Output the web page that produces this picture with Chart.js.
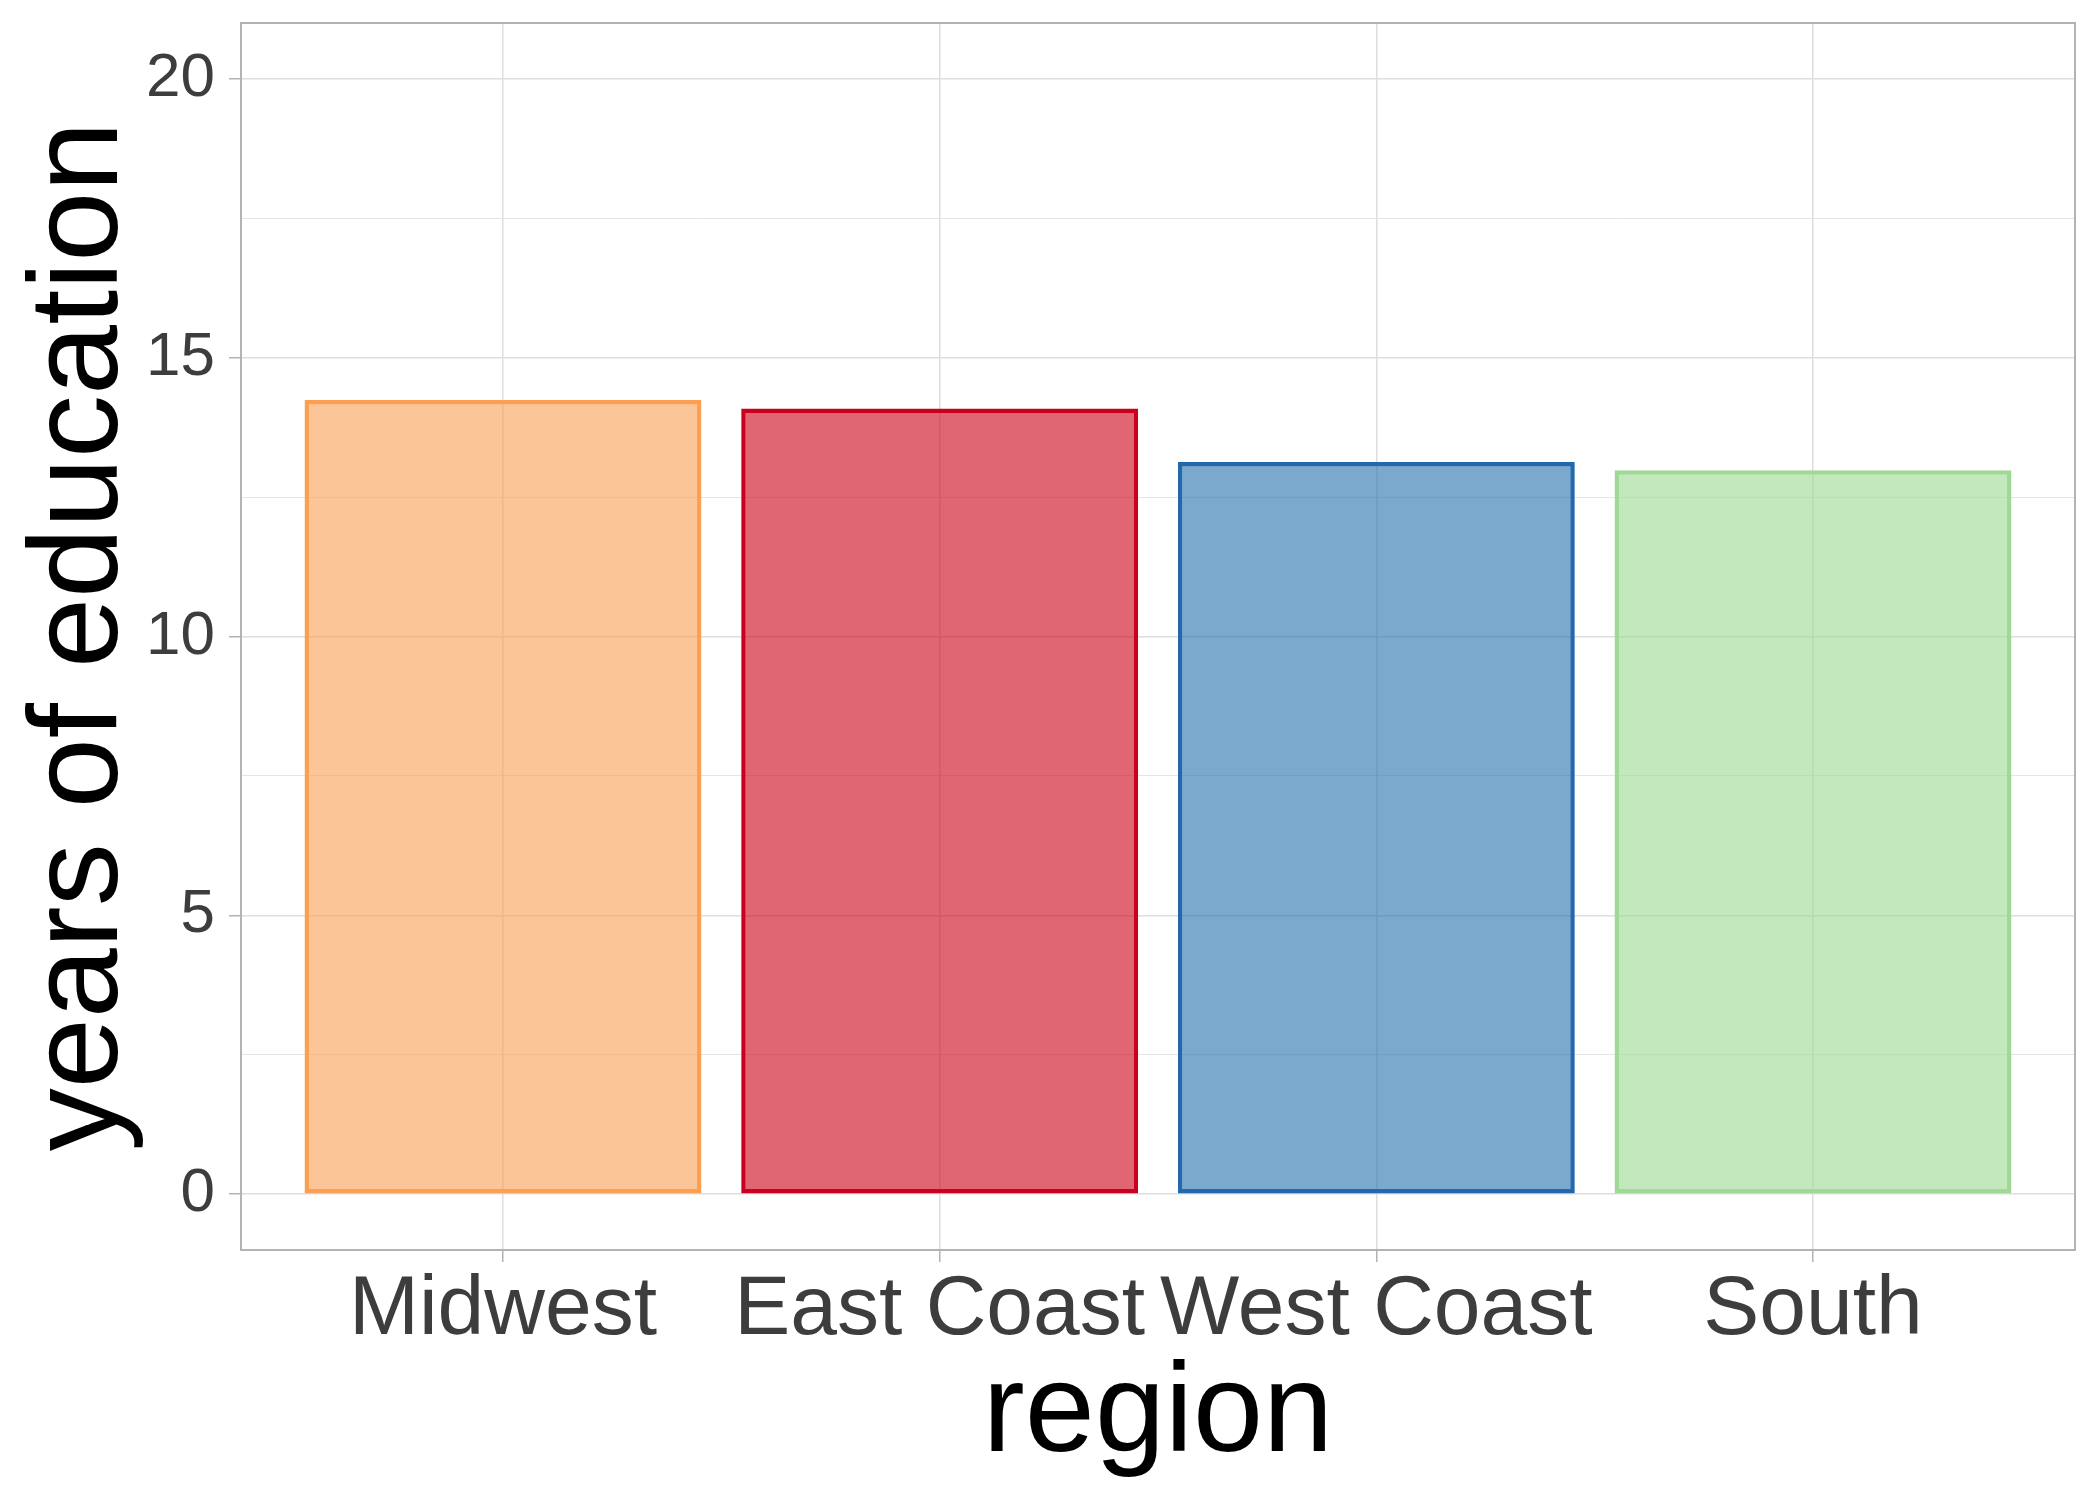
<!DOCTYPE html>
<html>
<head>
<meta charset="utf-8">
<script src="https://cdn.jsdelivr.net/npm/chart.js@4"></script>
<style>
html, body { margin: 0; padding: 0; background: #ffffff; }
canvas { display: block; }
</style>
</head>
<body>
<canvas id="c" width="2099" height="1499"></canvas>
<script>
// ---- data ----
const categories = ['Midwest', 'East Coast', 'West Coast', 'South'];
const yearsOfEducation = [14.24, 14.09, 13.13, 12.98];
const majorYTicks = [0, 5, 10, 15, 20];
const minorYTicks = [2.5, 7.5, 12.5, 17.5];
const xTickPositions = [1, 2, 3, 4];
const xAxisTitle = 'region';
const yAxisTitle = 'years of education';

// ---- styles ----
const barBorderColors = ['#FBA052', '#CA0020', '#2368AC', '#A0D896'];
const barFillColors = [
  'rgba(250, 158, 82, 0.6)',
  'rgba(203, 0, 22, 0.6)',
  'rgba(35, 110, 172, 0.6)',
  'rgba(157, 217, 147, 0.6)'
];
const FONT = "'Liberation Sans', Arial, Helvetica, sans-serif";
const TICK_TEXT = '#3D3D3D';
const GRID = '#DEDEDE';
const FRAME = '#B3B3B3';

const panelBorder = {
  id: 'panelBorder',
  afterDraw(chart) {
    const { ctx, chartArea: a } = chart;
    ctx.save();
    ctx.strokeStyle = FRAME;
    ctx.lineWidth = 2;
    ctx.strokeRect(a.left, a.top, a.right - a.left, a.bottom - a.top);
    ctx.restore();
  }
};

const allYTicks = majorYTicks.concat(minorYTicks).sort((a, b) => a - b);
const isMajorY = v => majorYTicks.includes(v);

new Chart(document.getElementById('c'), {
  type: 'bar',
  data: {
    datasets: [{
      data: categories.map((c, i) => ({ x: xTickPositions[i], y: yearsOfEducation[i] })),
      backgroundColor: barFillColors,
      borderColor: barBorderColors,
      borderWidth: 4.5,
      borderSkipped: false,
      categoryPercentage: 0.909,
      barPercentage: 1.0
    }]
  },
  options: {
    responsive: false,
    devicePixelRatio: 1,
    animation: false,
    layout: { padding: { left: 0, right: 24, top: 23, bottom: 0 } },
    plugins: {
      legend: { display: false },
      tooltip: { enabled: false }
    },
    scales: {
      x: {
        type: 'linear',
        min: 0.4,
        max: 4.6,
        offset: false,
        afterBuildTicks: s => { s.ticks = xTickPositions.map(v => ({ value: v })); },
        afterFit: s => { s.height = 249; s.paddingLeft = 0; s.paddingRight = 0; },
        ticks: {
          autoSkip: false,
          maxRotation: 0,
          minRotation: 0,
          padding: 7,
          color: TICK_TEXT,
          font: { family: FONT, size: 84, lineHeight: 1 },
          callback: v => categories[xTickPositions.indexOf(v)]
        },
        grid: {
          offset: false,
          color: GRID,
          lineWidth: 1.5,
          drawTicks: true,
          tickLength: 12,
          tickColor: FRAME,
          tickWidth: 1.5
        },
        border: { display: false },
        title: {
          display: true,
          text: xAxisTitle,
          color: '#000000',
          font: { family: FONT, size: 126, lineHeight: 1 },
          padding: { top: 0, bottom: 20 }
        }
      },
      y: {
        type: 'linear',
        min: -1,
        max: 21,
        afterBuildTicks: s => { s.ticks = allYTicks.map(v => ({ value: v })); },
        afterFit: s => { s.width = 241; s.paddingTop = 0; s.paddingBottom = 0; },
        ticks: {
          autoSkip: false,
          padding: 14,
          color: TICK_TEXT,
          font: { family: FONT, size: 62, lineHeight: 1 },
          callback: v => (isMajorY(v) ? String(v) : '')
        },
        grid: {
          color: GRID,
          lineWidth: ctx => (ctx.tick && isMajorY(ctx.tick.value) ? 1.5 : 0.8),
          drawTicks: true,
          tickLength: 12,
          tickColor: ctx => (ctx.tick && isMajorY(ctx.tick.value) ? FRAME : 'rgba(0,0,0,0)'),
          tickWidth: 1.5
        },
        border: { display: false },
        title: {
          display: true,
          text: yAxisTitle,
          color: '#000000',
          font: { family: FONT, size: 126, lineHeight: 1 },
          padding: { top: 19, bottom: 0 }
        }
      }
    }
  },
  plugins: [panelBorder]
});
</script>
</body>
</html>
